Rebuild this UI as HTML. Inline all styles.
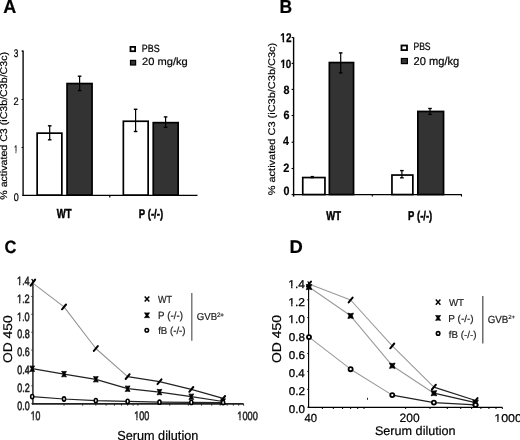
<!DOCTYPE html>
<html><head><meta charset="utf-8"><style>
html,body{margin:0;padding:0;background:#fff;width:520px;height:440px;overflow:hidden}
svg{display:block;will-change:transform}
text{font-family:"Liberation Sans",sans-serif;font-kerning:none;white-space:pre;text-rendering:geometricPrecision}
</style></head><body>
<svg width="520" height="440" viewBox="0 0 520 440">
<rect width="520" height="440" fill="#fff"/>
<text transform="matrix(0.959 0 0 1 3.351 12.7)" font-size="18.8" font-weight="bold" fill="#000" stroke="#000" stroke-width="0.208">A</text>
<text transform="matrix(0.933 0 0 1 279.526 12.5)" font-size="18.8" font-weight="bold" fill="#000" stroke="#000" stroke-width="0.214">B</text>
<text transform="matrix(0.928 0 0 1 4.522 252.626)" font-size="17.796" font-weight="bold" fill="#000" stroke="#000" stroke-width="0.215">C</text>
<text transform="matrix(0.998 0 0 1 289.467 252.6)" font-size="18.459" font-weight="bold" fill="#000" stroke="#000" stroke-width="0.2">D</text>
<rect x="37.15" y="133.15" width="24.7" height="62" fill="#fff" stroke="#000" stroke-width="1.7"/>
<rect x="67.05" y="83.55" width="25" height="111.6" fill="#333" stroke="#000" stroke-width="1.7"/>
<rect x="123.35" y="121.25" width="24.8" height="73.9" fill="#fff" stroke="#000" stroke-width="1.7"/>
<rect x="153.25" y="122.65" width="24.9" height="72.5" fill="#333" stroke="#000" stroke-width="1.7"/>
<line x1="23.1" y1="50.5" x2="23.1" y2="196" stroke="#000" stroke-width="1.35"/>
<line x1="21.6" y1="51.1" x2="23" y2="51.1" stroke="#000" stroke-width="1.1"/>
<line x1="21.6" y1="99.5" x2="23" y2="99.5" stroke="#000" stroke-width="1.1"/>
<line x1="21.6" y1="147.5" x2="23" y2="147.5" stroke="#000" stroke-width="1.1"/>
<line x1="22.4" y1="195.4" x2="197.5" y2="195.4" stroke="#000" stroke-width="1.3"/>
<line x1="109.8" y1="195.3" x2="109.8" y2="197.6" stroke="#000" stroke-width="1.2"/>
<line x1="49.7" y1="125.8" x2="49.7" y2="139.8" stroke="#000" stroke-width="1.2"/>
<line x1="47.9" y1="125.8" x2="51.5" y2="125.8" stroke="#000" stroke-width="1.4"/>
<line x1="47.9" y1="139.8" x2="51.5" y2="139.8" stroke="#000" stroke-width="1.4"/>
<line x1="79.6" y1="76.2" x2="79.6" y2="90.6" stroke="#000" stroke-width="1.2"/>
<line x1="77.8" y1="76.2" x2="81.4" y2="76.2" stroke="#000" stroke-width="1.4"/>
<line x1="77.8" y1="90.6" x2="81.4" y2="90.6" stroke="#000" stroke-width="1.4"/>
<line x1="135.6" y1="109.3" x2="135.6" y2="131.5" stroke="#000" stroke-width="1.2"/>
<line x1="133.8" y1="109.3" x2="137.4" y2="109.3" stroke="#000" stroke-width="1.4"/>
<line x1="133.8" y1="131.5" x2="137.4" y2="131.5" stroke="#000" stroke-width="1.4"/>
<line x1="165.6" y1="116.9" x2="165.6" y2="127.3" stroke="#000" stroke-width="1.2"/>
<line x1="163.8" y1="116.9" x2="167.4" y2="116.9" stroke="#000" stroke-width="1.4"/>
<line x1="163.8" y1="127.3" x2="167.4" y2="127.3" stroke="#000" stroke-width="1.4"/>
<text transform="matrix(0.737 0 0 1 13.687 56.691)" font-size="11.158" fill="#000" stroke="#000" stroke-width="0.271">3</text>
<text transform="matrix(0.847 0 0 1 13.436 105.2)" font-size="10.884" fill="#000" stroke="#000" stroke-width="0.236">2</text>
<text transform="matrix(0.548 0 0 1 14.141 153)" font-size="11" fill="#000" stroke="#000" stroke-width="0.365">1</text>
<rect transform="matrix(0.548 0 0 1 14.141 153)" x="-1.533" y="-1.392" width="4.117" height="2.812" fill="#fff"/>
<rect transform="matrix(0.548 0 0 1 14.141 153)" x="3.921" y="-1.392" width="4.031" height="2.812" fill="#fff"/>
<text transform="matrix(0.817 0 0 1 13.649 200.692)" font-size="11.017" fill="#000" stroke="#000" stroke-width="0.245">0</text>
<text transform="matrix(0 -1.086 1 0 6.5 199.779)" font-size="9.8" fill="#000" stroke="#000" stroke-width="0.184">% activated C3 (iC3b/C3b/C3c)</text>
<rect x="130.5" y="46.9" width="4.6" height="4.3" fill="#fff" stroke="#000" stroke-width="1.8"/>
<rect x="130.5" y="60.4" width="5.1" height="4.6" fill="#333" stroke="#000" stroke-width="1.2"/>
<text transform="matrix(0.852 0 0 1 141.869 51.6)" font-size="10.465" fill="#000" stroke="#000" stroke-width="0.235">PBS</text>
<text transform="matrix(1.063 0 0 1 142.04 65.4)" font-size="10.465" fill="#000" stroke="#000" stroke-width="0.188">20 mg/kg</text>
<text transform="matrix(0.736 0 0 1 56.791 217.5)" font-size="12.936" font-weight="bold" fill="#000" stroke="#000" stroke-width="0.475">WT</text>
<text transform="matrix(0.768 0 0 1 138.658 217.7)" font-size="12.5" font-weight="bold" fill="#000" stroke="#000" stroke-width="0.456">P (-/-)</text>
<rect x="302.75" y="177.55" width="22.2" height="17" fill="#fff" stroke="#000" stroke-width="1.7"/>
<rect x="329.35" y="62.55" width="24.2" height="132" fill="#333" stroke="#000" stroke-width="1.7"/>
<rect x="391.95" y="175.05" width="20.9" height="19.5" fill="#fff" stroke="#000" stroke-width="1.7"/>
<rect x="417.85" y="111.45" width="25.7" height="83.1" fill="#333" stroke="#000" stroke-width="1.7"/>
<line x1="293.6" y1="37.3" x2="293.6" y2="196.6" stroke="#000" stroke-width="1.4"/>
<line x1="291.6" y1="37.5" x2="293.6" y2="37.5" stroke="#000" stroke-width="1.1"/>
<line x1="291.6" y1="63.4" x2="293.6" y2="63.4" stroke="#000" stroke-width="1.1"/>
<line x1="291.6" y1="89.4" x2="293.6" y2="89.4" stroke="#000" stroke-width="1.1"/>
<line x1="291.6" y1="115.5" x2="293.6" y2="115.5" stroke="#000" stroke-width="1.1"/>
<line x1="291.6" y1="142.2" x2="293.6" y2="142.2" stroke="#000" stroke-width="1.1"/>
<line x1="291.6" y1="168.5" x2="293.6" y2="168.5" stroke="#000" stroke-width="1.1"/>
<line x1="291.6" y1="194.6" x2="293.6" y2="194.6" stroke="#000" stroke-width="1.1"/>
<line x1="293" y1="194.6" x2="462" y2="194.6" stroke="#000" stroke-width="1.4"/>
<line x1="372.3" y1="194.6" x2="372.3" y2="196.6" stroke="#000" stroke-width="1.1"/>
<line x1="461.5" y1="194.6" x2="461.5" y2="196.6" stroke="#000" stroke-width="1.1"/>
<line x1="312.3" y1="176.6" x2="312.3" y2="177.6" stroke="#000" stroke-width="1.2"/>
<line x1="310.7" y1="176.6" x2="313.9" y2="176.6" stroke="#000" stroke-width="1.4"/>
<line x1="310.7" y1="177.6" x2="313.9" y2="177.6" stroke="#000" stroke-width="1.4"/>
<line x1="340.7" y1="52.9" x2="340.7" y2="72.9" stroke="#000" stroke-width="1.2"/>
<line x1="338.9" y1="52.9" x2="342.5" y2="52.9" stroke="#000" stroke-width="1.4"/>
<line x1="338.9" y1="72.9" x2="342.5" y2="72.9" stroke="#000" stroke-width="1.4"/>
<line x1="401.9" y1="170.6" x2="401.9" y2="177.8" stroke="#000" stroke-width="1.2"/>
<line x1="400.1" y1="170.6" x2="403.7" y2="170.6" stroke="#000" stroke-width="1.4"/>
<line x1="400.1" y1="177.8" x2="403.7" y2="177.8" stroke="#000" stroke-width="1.4"/>
<line x1="430" y1="108.5" x2="430" y2="114.4" stroke="#000" stroke-width="1.2"/>
<line x1="428.2" y1="108.5" x2="431.8" y2="108.5" stroke="#000" stroke-width="1.4"/>
<line x1="428.2" y1="114.4" x2="431.8" y2="114.4" stroke="#000" stroke-width="1.4"/>
<text transform="matrix(0.794 0 0 1 280.37 41.8)" font-size="12.603" font-weight="bold" fill="#000" stroke="#000" stroke-width="0.252">12</text>
<rect transform="matrix(0.794 0 0 1 280.37 41.8)" x="-0.843" y="-1.856" width="3.659" height="3.276" fill="#fff"/>
<rect transform="matrix(0.794 0 0 1 280.37 41.8)" x="4.797" y="-1.856" width="2.461" height="3.276" fill="#fff"/>
<text transform="matrix(0.828 0 0 1 280.382 67.584)" font-size="11.864" font-weight="bold" fill="#000" stroke="#000" stroke-width="0.242">10</text>
<rect transform="matrix(0.828 0 0 1 280.382 67.584)" x="-0.824" y="-1.781" width="3.472" height="3.201" fill="#fff"/>
<rect transform="matrix(0.828 0 0 1 280.382 67.584)" x="4.518" y="-1.781" width="2.369" height="3.201" fill="#fff"/>
<text transform="matrix(0.905 0 0 1 283.559 93.584)" font-size="11.864" font-weight="bold" fill="#000" stroke="#000" stroke-width="0.221">8</text>
<text transform="matrix(0.896 0 0 1 283.406 119.483)" font-size="12.006" font-weight="bold" fill="#000" stroke="#000" stroke-width="0.223">6</text>
<text transform="matrix(0.861 0 0 1 283.039 144.9)" font-size="12.355" font-weight="bold" fill="#000" stroke="#000" stroke-width="0.232">4</text>
<text transform="matrix(0.904 0 0 1 283.218 171.8)" font-size="12.173" font-weight="bold" fill="#000" stroke="#000" stroke-width="0.221">2</text>
<text transform="matrix(0.883 0 0 1 283.376 194.681)" font-size="12.147" font-weight="bold" fill="#000" stroke="#000" stroke-width="0.227">0</text>
<text transform="matrix(0 -1.133 1 0 274.9 195.292)" font-size="9.7" fill="#000" stroke="#000" stroke-width="0.177">% activated C3 (iC3b/C3b/C3c)</text>
<rect x="401.5" y="45.5" width="5.5" height="4.6" fill="#fff" stroke="#000" stroke-width="1.8"/>
<rect x="401.4" y="58.5" width="6" height="5.1" fill="#333" stroke="#000" stroke-width="1.2"/>
<text transform="matrix(0.81 0 0 1 413.395 49.9)" font-size="10.61" fill="#000" stroke="#000" stroke-width="0.247">PBS</text>
<text transform="matrix(0.969 0 0 1 413.54 65.3)" font-size="11.483" fill="#000" stroke="#000" stroke-width="0.206">20 mg/kg</text>
<text transform="matrix(0.74 0 0 1 326.291 220.2)" font-size="12.791" font-weight="bold" fill="#000" stroke="#000" stroke-width="0.473">WT</text>
<text transform="matrix(0.749 0 0 1 408.066 220.1)" font-size="12.645" font-weight="bold" fill="#000" stroke="#000" stroke-width="0.467">P (-/-)</text>
<line x1="32.9" y1="281.5" x2="32.9" y2="404.5" stroke="#333" stroke-width="1.6"/>
<line x1="31.3" y1="403.7" x2="32.9" y2="403.7" stroke="#333" stroke-width="1"/>
<line x1="31.3" y1="385.83" x2="32.9" y2="385.83" stroke="#333" stroke-width="1"/>
<line x1="31.3" y1="367.96" x2="32.9" y2="367.96" stroke="#333" stroke-width="1"/>
<line x1="31.3" y1="350.09" x2="32.9" y2="350.09" stroke="#333" stroke-width="1"/>
<line x1="31.3" y1="332.22" x2="32.9" y2="332.22" stroke="#333" stroke-width="1"/>
<line x1="31.3" y1="314.35" x2="32.9" y2="314.35" stroke="#333" stroke-width="1"/>
<line x1="31.3" y1="296.48" x2="32.9" y2="296.48" stroke="#333" stroke-width="1"/>
<line x1="32" y1="403.8" x2="243.6" y2="403.8" stroke="#222" stroke-width="1.8"/>
<line x1="64.019" y1="403.8" x2="64.019" y2="405.6" stroke="#222" stroke-width="1"/>
<line x1="82.632" y1="403.8" x2="82.632" y2="405.6" stroke="#222" stroke-width="1"/>
<line x1="95.838" y1="403.8" x2="95.838" y2="405.6" stroke="#222" stroke-width="1"/>
<line x1="106.081" y1="403.8" x2="106.081" y2="405.6" stroke="#222" stroke-width="1"/>
<line x1="114.451" y1="403.8" x2="114.451" y2="405.6" stroke="#222" stroke-width="1"/>
<line x1="121.527" y1="403.8" x2="121.527" y2="405.6" stroke="#222" stroke-width="1"/>
<line x1="127.657" y1="403.8" x2="127.657" y2="405.6" stroke="#222" stroke-width="1"/>
<line x1="133.063" y1="403.8" x2="133.063" y2="405.6" stroke="#222" stroke-width="1"/>
<line x1="137.9" y1="403.8" x2="137.9" y2="405.6" stroke="#222" stroke-width="1"/>
<line x1="169.719" y1="403.8" x2="169.719" y2="405.6" stroke="#222" stroke-width="1"/>
<line x1="188.332" y1="403.8" x2="188.332" y2="405.6" stroke="#222" stroke-width="1"/>
<line x1="201.538" y1="403.8" x2="201.538" y2="405.6" stroke="#222" stroke-width="1"/>
<line x1="211.781" y1="403.8" x2="211.781" y2="405.6" stroke="#222" stroke-width="1"/>
<line x1="220.151" y1="403.8" x2="220.151" y2="405.6" stroke="#222" stroke-width="1"/>
<line x1="227.227" y1="403.8" x2="227.227" y2="405.6" stroke="#222" stroke-width="1"/>
<line x1="233.357" y1="403.8" x2="233.357" y2="405.6" stroke="#222" stroke-width="1"/>
<line x1="238.763" y1="403.8" x2="238.763" y2="405.6" stroke="#222" stroke-width="1"/>
<line x1="243.6" y1="403.8" x2="243.6" y2="405.6" stroke="#222" stroke-width="1"/>
<path d="M32.2,282.6 L64.019,306.9 L95.838,348.5 L127.657,376.6" fill="none" stroke="#929292" stroke-width="1.05" stroke-linejoin="round"/>
<path d="M127.657,376.6 L159.475,381.7 L191.294,389.4 L223.113,398.4" fill="none" stroke="#222" stroke-width="1.2" stroke-linejoin="round"/>
<path d="M32.2,368.7 L64.019,374.1 L95.838,379.3 L127.657,388.7 L159.475,392.1 L191.294,396.7 L223.113,401.5" fill="none" stroke="#222" stroke-width="1.2" stroke-linejoin="round"/>
<path d="M32.2,396.6 L64.019,399 L95.838,400.6 L127.657,401.4 L159.475,402.2 L191.294,402.4 L223.113,402.6" fill="none" stroke="#222" stroke-width="1.2" stroke-linejoin="round"/>
<line x1="62.019" y1="309.3" x2="66.019" y2="304.5" stroke="#000" stroke-width="2" stroke-linecap="round"/>
<line x1="93.838" y1="350.9" x2="97.838" y2="346.1" stroke="#000" stroke-width="2" stroke-linecap="round"/>
<line x1="125.657" y1="379" x2="129.657" y2="374.2" stroke="#000" stroke-width="2" stroke-linecap="round"/>
<line x1="157.475" y1="384.1" x2="161.475" y2="379.3" stroke="#000" stroke-width="2" stroke-linecap="round"/>
<line x1="189.294" y1="391.8" x2="193.294" y2="387" stroke="#000" stroke-width="2" stroke-linecap="round"/>
<line x1="221.113" y1="400.8" x2="225.113" y2="396" stroke="#000" stroke-width="2" stroke-linecap="round"/>
<line x1="30.6" y1="285.7" x2="35.1" y2="279.7" stroke="#000" stroke-width="2.1" stroke-linecap="round"/>
<line x1="31.7" y1="279" x2="33.6" y2="282" stroke="#000" stroke-width="1.3"/>
<path d="M29.8,365.9 L32.2,366.2 L34.6,365.9 L33.1,368.7 L34.6,371.5 L32.2,371.2 L29.8,371.5 L31.3,368.7 Z" fill="#000" stroke="#000" stroke-width="0.7" stroke-linejoin="round"/>
<path d="M61.619,371.3 L64.019,371.6 L66.419,371.3 L64.919,374.1 L66.419,376.9 L64.019,376.6 L61.619,376.9 L63.119,374.1 Z" fill="#000" stroke="#000" stroke-width="0.7" stroke-linejoin="round"/>
<path d="M93.438,376.5 L95.838,376.8 L98.238,376.5 L96.738,379.3 L98.238,382.1 L95.838,381.8 L93.438,382.1 L94.938,379.3 Z" fill="#000" stroke="#000" stroke-width="0.7" stroke-linejoin="round"/>
<path d="M125.257,385.9 L127.657,386.2 L130.057,385.9 L128.557,388.7 L130.057,391.5 L127.657,391.2 L125.257,391.5 L126.757,388.7 Z" fill="#000" stroke="#000" stroke-width="0.7" stroke-linejoin="round"/>
<path d="M157.075,389.3 L159.475,389.6 L161.875,389.3 L160.375,392.1 L161.875,394.9 L159.475,394.6 L157.075,394.9 L158.575,392.1 Z" fill="#000" stroke="#000" stroke-width="0.7" stroke-linejoin="round"/>
<path d="M188.894,393.9 L191.294,394.2 L193.694,393.9 L192.194,396.7 L193.694,399.5 L191.294,399.2 L188.894,399.5 L190.394,396.7 Z" fill="#000" stroke="#000" stroke-width="0.7" stroke-linejoin="round"/>
<path d="M220.713,398.7 L223.113,399 L225.513,398.7 L224.013,401.5 L225.513,404.3 L223.113,404 L220.713,404.3 L222.213,401.5 Z" fill="#000" stroke="#000" stroke-width="0.7" stroke-linejoin="round"/>
<ellipse cx="32.2" cy="396.6" rx="1.55" ry="2.1" fill="#fff" stroke="#000" stroke-width="1.6"/>
<ellipse cx="64.019" cy="399" rx="1.55" ry="2.1" fill="#fff" stroke="#000" stroke-width="1.6"/>
<ellipse cx="95.838" cy="400.6" rx="1.55" ry="2.1" fill="#fff" stroke="#000" stroke-width="1.6"/>
<ellipse cx="127.657" cy="401.4" rx="1.55" ry="2.1" fill="#fff" stroke="#000" stroke-width="1.6"/>
<ellipse cx="159.475" cy="402.2" rx="1.55" ry="2.1" fill="#fff" stroke="#000" stroke-width="1.6"/>
<ellipse cx="191.294" cy="402.4" rx="1.55" ry="2.1" fill="#fff" stroke="#000" stroke-width="1.6"/>
<ellipse cx="223.113" cy="402.6" rx="1.55" ry="2.1" fill="#fff" stroke="#000" stroke-width="1.6"/>
<text transform="matrix(0.755 0 0 1 16.906 284.8)" font-size="12.064" fill="#222" stroke="#222" stroke-width="0.556">1.4</text>
<rect transform="matrix(0.755 0 0 1 16.906 284.8)" x="-0.949" y="-1.603" width="3.704" height="3.155" fill="#fff"/>
<rect transform="matrix(0.755 0 0 1 16.906 284.8)" x="4.378" y="-1.603" width="3.089" height="3.155" fill="#fff"/>
<text transform="matrix(0.767 0 0 1 16.895 302.65)" font-size="12.064" fill="#222" stroke="#222" stroke-width="0.547">1.2</text>
<rect transform="matrix(0.767 0 0 1 16.895 302.65)" x="-0.918" y="-1.603" width="3.678" height="3.155" fill="#fff"/>
<rect transform="matrix(0.767 0 0 1 16.895 302.65)" x="4.373" y="-1.603" width="3.099" height="3.155" fill="#fff"/>
<text transform="matrix(0.761 0 0 1 16.901 320.5)" font-size="12.064" fill="#222" stroke="#222" stroke-width="0.552">1.0</text>
<rect transform="matrix(0.761 0 0 1 16.901 320.5)" x="-0.935" y="-1.603" width="3.692" height="3.155" fill="#fff"/>
<rect transform="matrix(0.761 0 0 1 16.901 320.5)" x="4.376" y="-1.603" width="3.093" height="3.155" fill="#fff"/>
<text transform="matrix(0.742 0 0 1 17.25 338.35)" font-size="12.064" fill="#222" stroke="#222" stroke-width="0.566">0.8</text>
<text transform="matrix(0.742 0 0 1 17.25 356.2)" font-size="12.064" fill="#222" stroke="#222" stroke-width="0.566">0.6</text>
<text transform="matrix(0.734 0 0 1 17.254 374.05)" font-size="12.064" fill="#222" stroke="#222" stroke-width="0.572">0.4</text>
<text transform="matrix(0.746 0 0 1 17.249 391.9)" font-size="12.064" fill="#222" stroke="#222" stroke-width="0.563">0.2</text>
<text transform="matrix(0.739 0 0 1 17.252 409.75)" font-size="12.064" fill="#222" stroke="#222" stroke-width="0.568">0.0</text>
<text transform="matrix(0 -1.096 1 0 11.6 362.954)" font-size="12.6" fill="#000" stroke="#000" stroke-width="0.182">OD 450</text>
<text transform="matrix(0.706 0 0 1 30.635 419.8)" font-size="12.355" fill="#2a2a2a" stroke="#2a2a2a" stroke-width="0.637">10</text>
<rect transform="matrix(0.706 0 0 1 30.635 419.8)" x="-1.077" y="-1.643" width="3.865" height="3.213" fill="#fff"/>
<rect transform="matrix(0.706 0 0 1 30.635 419.8)" x="4.517" y="-1.643" width="2.447" height="3.213" fill="#fff"/>
<text transform="matrix(0.73 0 0 1 134.213 419.6)" font-size="12.355" fill="#2a2a2a" stroke="#2a2a2a" stroke-width="0.617">100</text>
<rect transform="matrix(0.73 0 0 1 134.213 419.6)" x="-1.012" y="-1.643" width="3.81" height="3.213" fill="#fff"/>
<rect transform="matrix(0.73 0 0 1 134.213 419.6)" x="4.507" y="-1.643" width="2.47" height="3.213" fill="#fff"/>
<text transform="matrix(0.772 0 0 1 237.299 419.6)" font-size="11.919" fill="#2a2a2a" stroke="#2a2a2a" stroke-width="0.583">1000</text>
<rect transform="matrix(0.772 0 0 1 237.299 419.6)" x="-0.939" y="-1.61" width="3.644" height="3.18" fill="#fff"/>
<rect transform="matrix(0.772 0 0 1 237.299 419.6)" x="4.342" y="-1.61" width="2.396" height="3.18" fill="#fff"/>
<text transform="matrix(0.97 0 0 1 117.224 439.8)" font-size="13.081" fill="#000" stroke="#000" stroke-width="0.206">Serum dilution</text>
<path d="M144.7,296.4 L149.3,301.6 M144.7,301.6 L149.3,296.4" stroke="#000" stroke-width="1.45" fill="none"/>
<path d="M144.5,312.8 L147,313.1 L149.5,312.8 L147.9,315.3 L149.5,317.8 L147,317.5 L144.5,317.8 L146.1,315.3 Z" fill="#000" stroke="#000" stroke-width="0.7" stroke-linejoin="round"/>
<ellipse cx="146.8" cy="330.2" rx="1.75" ry="1.75" fill="#fff" stroke="#000" stroke-width="1.6"/>
<text transform="matrix(0.876 0 0 1 158.06 302.6)" font-size="10.32" fill="#222" stroke="#222" stroke-width="0.228">WT</text>
<text transform="matrix(0.932 0 0 1 158 318.6)" font-size="10.465" fill="#222" stroke="#222" stroke-width="0.215">P (-/-)</text>
<text transform="matrix(0.952 0 0 1 158.163 334)" font-size="10.174" fill="#222" stroke="#222" stroke-width="0.21">fB (-/-)</text>
<line x1="191.8" y1="292.9" x2="191.8" y2="340.7" stroke="#666" stroke-width="1.3"/>
<text transform="matrix(0.963 0 0 1 196.714 319.6)" font-size="10.029" fill="#222" stroke="#222" stroke-width="0.208">GVB</text>
<text transform="matrix(0.991 0 0 1 216.886 316.9)" font-size="6.302" fill="#222" stroke="#222" stroke-width="0.202">2+</text>
<line x1="308.6" y1="281.9" x2="308.6" y2="408" stroke="#000" stroke-width="1.15"/>
<line x1="307.3" y1="407.2" x2="308.8" y2="407.2" stroke="#000" stroke-width="1"/>
<line x1="307.3" y1="389.3" x2="308.8" y2="389.3" stroke="#000" stroke-width="1"/>
<line x1="307.3" y1="371.4" x2="308.8" y2="371.4" stroke="#000" stroke-width="1"/>
<line x1="307.3" y1="353.5" x2="308.8" y2="353.5" stroke="#000" stroke-width="1"/>
<line x1="307.3" y1="335.6" x2="308.8" y2="335.6" stroke="#000" stroke-width="1"/>
<line x1="307.3" y1="317.7" x2="308.8" y2="317.7" stroke="#000" stroke-width="1"/>
<line x1="307.3" y1="299.8" x2="308.8" y2="299.8" stroke="#000" stroke-width="1"/>
<line x1="307.3" y1="281.9" x2="308.8" y2="281.9" stroke="#000" stroke-width="1"/>
<line x1="308.2" y1="407.3" x2="502.4" y2="407.3" stroke="#000" stroke-width="1.3"/>
<line x1="322.403" y1="407.3" x2="322.403" y2="409" stroke="#000" stroke-width="1"/>
<line x1="333.353" y1="407.3" x2="333.353" y2="409" stroke="#000" stroke-width="1"/>
<line x1="342.612" y1="407.3" x2="342.612" y2="409" stroke="#000" stroke-width="1"/>
<line x1="350.632" y1="407.3" x2="350.632" y2="409" stroke="#000" stroke-width="1"/>
<line x1="357.707" y1="407.3" x2="357.707" y2="409" stroke="#000" stroke-width="1"/>
<line x1="364.035" y1="407.3" x2="364.035" y2="409" stroke="#000" stroke-width="1"/>
<line x1="405.668" y1="407.3" x2="405.668" y2="409" stroke="#000" stroke-width="1"/>
<line x1="430.021" y1="407.3" x2="430.021" y2="409" stroke="#000" stroke-width="1"/>
<line x1="447.3" y1="407.3" x2="447.3" y2="409" stroke="#000" stroke-width="1"/>
<line x1="460.703" y1="407.3" x2="460.703" y2="409" stroke="#000" stroke-width="1"/>
<line x1="471.653" y1="407.3" x2="471.653" y2="409" stroke="#000" stroke-width="1"/>
<line x1="480.912" y1="407.3" x2="480.912" y2="409" stroke="#000" stroke-width="1"/>
<line x1="488.932" y1="407.3" x2="488.932" y2="409" stroke="#000" stroke-width="1"/>
<line x1="496.007" y1="407.3" x2="496.007" y2="409" stroke="#000" stroke-width="1"/>
<line x1="502.335" y1="407.3" x2="502.335" y2="409" stroke="#000" stroke-width="1"/>
<path d="M309,284 L350.632,300 L392.265,345.9 L433.897,387.1" fill="none" stroke="#999" stroke-width="1.05" stroke-linejoin="round"/>
<path d="M433.897,387.1 L475.53,400.5" fill="none" stroke="#222" stroke-width="1.2" stroke-linejoin="round"/>
<path d="M309,287 L350.632,315.8 L392.265,365.7 L433.897,393.2" fill="none" stroke="#999" stroke-width="1.05" stroke-linejoin="round"/>
<path d="M433.897,393.2 L475.53,402.6" fill="none" stroke="#222" stroke-width="1.2" stroke-linejoin="round"/>
<path d="M309,337.1 L350.632,369.2 L392.265,395.1" fill="none" stroke="#999" stroke-width="1.05" stroke-linejoin="round"/>
<path d="M392.265,395.1 L433.897,402.6 L475.53,404.9" fill="none" stroke="#222" stroke-width="1.2" stroke-linejoin="round"/>
<line x1="307" y1="286.4" x2="311" y2="281.6" stroke="#000" stroke-width="2" stroke-linecap="round"/>
<line x1="348.632" y1="302.4" x2="352.632" y2="297.6" stroke="#000" stroke-width="2" stroke-linecap="round"/>
<line x1="390.265" y1="348.3" x2="394.265" y2="343.5" stroke="#000" stroke-width="2" stroke-linecap="round"/>
<line x1="431.897" y1="389.5" x2="435.897" y2="384.7" stroke="#000" stroke-width="2" stroke-linecap="round"/>
<line x1="473.53" y1="402.9" x2="477.53" y2="398.1" stroke="#000" stroke-width="2" stroke-linecap="round"/>
<path d="M306.2,284.3 L309,284.9 L311.8,284.3 L310.7,287 L311.8,289.7 L309,289.1 L306.2,289.7 L307.3,287 Z" fill="#000" stroke="#000" stroke-width="0.7" stroke-linejoin="round"/>
<path d="M347.832,313.1 L350.632,313.7 L353.432,313.1 L352.332,315.8 L353.432,318.5 L350.632,317.9 L347.832,318.5 L348.932,315.8 Z" fill="#000" stroke="#000" stroke-width="0.7" stroke-linejoin="round"/>
<path d="M389.465,363 L392.265,363.6 L395.065,363 L393.965,365.7 L395.065,368.4 L392.265,367.8 L389.465,368.4 L390.565,365.7 Z" fill="#000" stroke="#000" stroke-width="0.7" stroke-linejoin="round"/>
<path d="M431.097,390.5 L433.897,391.1 L436.697,390.5 L435.597,393.2 L436.697,395.9 L433.897,395.3 L431.097,395.9 L432.197,393.2 Z" fill="#000" stroke="#000" stroke-width="0.7" stroke-linejoin="round"/>
<path d="M472.73,399.9 L475.53,400.5 L478.33,399.9 L477.23,402.6 L478.33,405.3 L475.53,404.7 L472.73,405.3 L473.83,402.6 Z" fill="#000" stroke="#000" stroke-width="0.7" stroke-linejoin="round"/>
<ellipse cx="309" cy="337.1" rx="2.05" ry="2.05" fill="#fff" stroke="#000" stroke-width="1.8"/>
<ellipse cx="350.632" cy="369.2" rx="2.05" ry="2.05" fill="#fff" stroke="#000" stroke-width="1.8"/>
<ellipse cx="392.265" cy="395.1" rx="2.05" ry="2.05" fill="#fff" stroke="#000" stroke-width="1.8"/>
<ellipse cx="433.897" cy="402.6" rx="2.05" ry="2.05" fill="#fff" stroke="#000" stroke-width="1.8"/>
<ellipse cx="475.53" cy="404.9" rx="2.05" ry="2.05" fill="#fff" stroke="#000" stroke-width="1.8"/>
<text transform="matrix(1.044 0 0 1 288.299 287.6)" font-size="11.337" fill="#000" stroke="#000" stroke-width="0.287">1.4</text>
<rect transform="matrix(1.044 0 0 1 288.299 287.6)" x="-0.43" y="-1.477" width="3.137" height="2.957" fill="#fff"/>
<rect transform="matrix(1.044 0 0 1 288.299 287.6)" x="3.997" y="-1.477" width="3.049" height="2.957" fill="#fff"/>
<text transform="matrix(1.061 0 0 1 288.284 305.5)" font-size="11.337" fill="#000" stroke="#000" stroke-width="0.283">1.2</text>
<rect transform="matrix(1.061 0 0 1 288.284 305.5)" x="-0.409" y="-1.477" width="3.118" height="2.957" fill="#fff"/>
<rect transform="matrix(1.061 0 0 1 288.284 305.5)" x="3.994" y="-1.477" width="3.03" height="2.957" fill="#fff"/>
<text transform="matrix(1.052 0 0 1 288.292 323.4)" font-size="11.337" fill="#000" stroke="#000" stroke-width="0.285">1.0</text>
<rect transform="matrix(1.052 0 0 1 288.292 323.4)" x="-0.42" y="-1.477" width="3.128" height="2.957" fill="#fff"/>
<rect transform="matrix(1.052 0 0 1 288.292 323.4)" x="3.996" y="-1.477" width="3.04" height="2.957" fill="#fff"/>
<text transform="matrix(1.025 0 0 1 288.746 341.3)" font-size="11.337" fill="#000" stroke="#000" stroke-width="0.293">0.8</text>
<text transform="matrix(1.026 0 0 1 288.746 359.2)" font-size="11.337" fill="#000" stroke="#000" stroke-width="0.292">0.6</text>
<text transform="matrix(1.014 0 0 1 288.751 377.1)" font-size="11.337" fill="#000" stroke="#000" stroke-width="0.296">0.4</text>
<text transform="matrix(1.031 0 0 1 288.744 395)" font-size="11.337" fill="#000" stroke="#000" stroke-width="0.291">0.2</text>
<text transform="matrix(1.022 0 0 1 288.747 412.9)" font-size="11.337" fill="#000" stroke="#000" stroke-width="0.294">0.0</text>
<text transform="matrix(0 -1.088 1 0 281.3 362.96)" font-size="12.8" fill="#000" stroke="#000" stroke-width="0.184">OD 450</text>
<text transform="matrix(0.962 0 0 1 304.54 421.9)" font-size="11.773" fill="#000" stroke="#000" stroke-width="0.208">40</text>
<text transform="matrix(0.997 0 0 1 399.595 421.9)" font-size="12.064" fill="#000" stroke="#000" stroke-width="0.201">200</text>
<text transform="matrix(1.1 0 0 1 494.25 421.8)" font-size="11.337" fill="#000" stroke="#000" stroke-width="0.182">1000</text>
<rect transform="matrix(1.1 0 0 1 494.25 421.8)" x="-0.319" y="-1.417" width="3.078" height="2.837" fill="#fff"/>
<rect transform="matrix(1.1 0 0 1 494.25 421.8)" x="3.944" y="-1.417" width="2.668" height="2.837" fill="#fff"/>
<text transform="matrix(1.01 0 0 1 374.927 434.7)" font-size="12.5" fill="#000" stroke="#000" stroke-width="0.198">Serum dilution</text>
<path d="M435.8,299.5 L440.4,304.7 M435.8,304.7 L440.4,299.5" stroke="#000" stroke-width="1.45" fill="none"/>
<path d="M435.6,315.4 L438.1,315.7 L440.6,315.4 L439,317.9 L440.6,320.4 L438.1,320.1 L435.6,320.4 L437.2,317.9 Z" fill="#000" stroke="#000" stroke-width="0.7" stroke-linejoin="round"/>
<ellipse cx="438.1" cy="333.4" rx="1.75" ry="1.75" fill="#fff" stroke="#000" stroke-width="1.6"/>
<text transform="matrix(0.98 0 0 1 448.957 306.2)" font-size="9.884" fill="#222" stroke="#222" stroke-width="0.204">WT</text>
<text transform="matrix(0.997 0 0 1 448.18 321.7)" font-size="10.029" fill="#222" stroke="#222" stroke-width="0.201">P (-/-)</text>
<text transform="matrix(0.991 0 0 1 448.861 337.9)" font-size="9.884" fill="#222" stroke="#222" stroke-width="0.202">fB (-/-)</text>
<line x1="482.8" y1="296" x2="482.8" y2="343.4" stroke="#555" stroke-width="1.3"/>
<text transform="matrix(0.95 0 0 1 487.707 322.9)" font-size="10.32" fill="#222" stroke="#222" stroke-width="0.21">GVB</text>
<text transform="matrix(1.015 0 0 1 508.3 319.4)" font-size="5.872" fill="#222" stroke="#222" stroke-width="0.197">2+</text>
<rect x="367" y="397.8" width="1" height="2" fill="#222"/>
</svg>
</body></html>
